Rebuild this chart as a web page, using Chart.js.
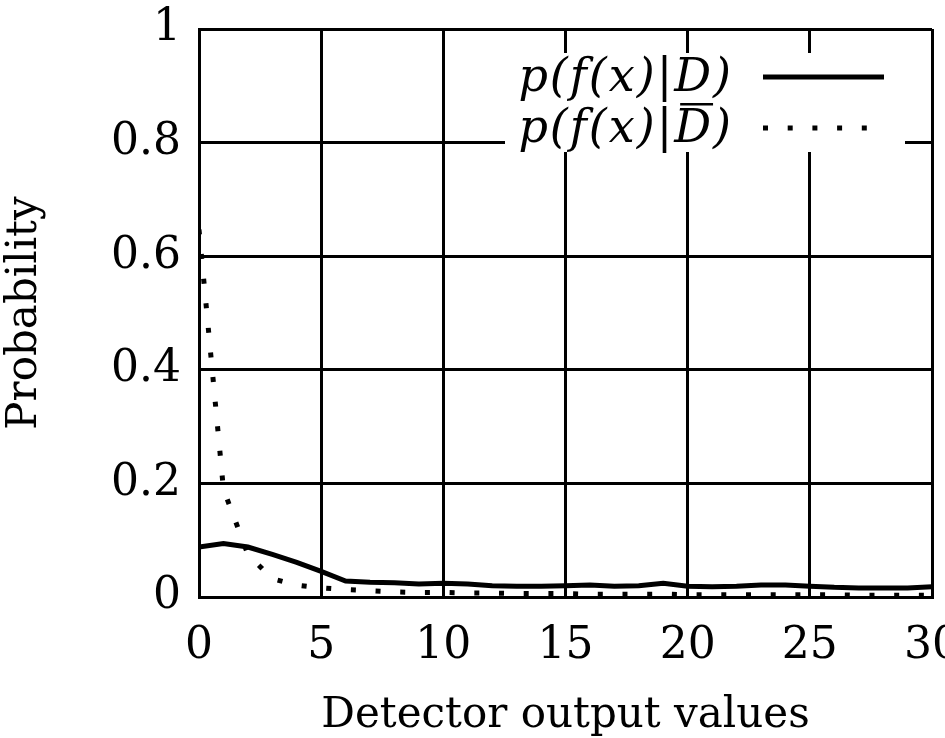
<!DOCTYPE html>
<html>
<head>
<meta charset="utf-8">
<script src="https://cdn.jsdelivr.net/npm/chart.js@4.4.1/dist/chart.umd.min.js"></script>
<style>
  html, body { margin: 0; padding: 0; background: #fff; }
  #wrap { width: 945px; height: 738px; }
</style>
</head>
<body>
<div id="wrap"><canvas id="probChart" width="945" height="738"></canvas></div>
<script>
// valores del detector (eje x)
const detectorValues = [0, 1, 2, 3, 4, 5, 6, 7, 8, 9, 10, 11, 12, 13, 14, 15,
    16, 17, 18, 19, 20, 21, 22, 23, 24, 25, 26, 27, 28, 29, 30];

// p(f(x)|D) - linea continua
const probGivenD = [0.088, 0.094, 0.088, 0.075, 0.061, 0.045, 0.028, 0.026, 0.025, 0.023,
    0.024, 0.023, 0.020, 0.019, 0.019, 0.020, 0.021, 0.019, 0.020, 0.024,
    0.019, 0.018, 0.019, 0.021, 0.021, 0.019, 0.017, 0.016, 0.016, 0.016, 0.018];

// p(f(x)|D barra) - linea punteada
const probGivenNotD = [0.647, 0.19, 0.075, 0.032, 0.021, 0.016, 0.013, 0.011, 0.009, 0.008,
    0.008, 0.007, 0.007, 0.006, 0.006, 0.006, 0.005, 0.005, 0.005, 0.005,
    0.004, 0.004, 0.004, 0.004, 0.004, 0.004, 0.004, 0.003, 0.003, 0.003, 0.003];

const xTicksStep = 5;
const yTicksStep = 0.2;
const legendText = 'p(f(x)|D)';

const serif = '"DejaVu Serif", "Liberation Serif", serif';

function toPoints(ys) {
    return detectorValues.map((x, i) => ({ x: x, y: ys[i] }));
}

// leyenda estilo LaTeX (con la D barrada) dibujada a mano
const texLegend = {
    id: 'texLegend',
    afterDraw(chart) {
        const ctx = chart.ctx;
        const area = chart.chartArea;
        const boxLeft = area.right - 427;
        const boxTop = area.top + 24;
        ctx.save();
        ctx.fillStyle = '#fff';
        ctx.fillRect(boxLeft, boxTop, 400, 99);

        const textRight = area.right - 199;
        const sampleX0 = area.right - 169;
        const sampleX1 = area.right - 48;
        const rows = [area.top + 62, area.top + 113];

        chart.data.datasets.forEach((ds, i) => {
            const baseline = rows[i];
            ctx.font = 'italic 46px ' + serif;
            if ('letterSpacing' in ctx) ctx.letterSpacing = '2px';
            ctx.fillStyle = '#000';
            ctx.textAlign = 'right';
            ctx.textBaseline = 'alphabetic';
            ctx.fillText(legendText, textRight, baseline);
            if (i === 1) {
                // barra sobre la D
                const full = ctx.measureText(legendText).width;
                const pre = ctx.measureText('p(f(x)|').width;
                const dW = ctx.measureText('D').width;
                const dx = textRight - full + pre;
                ctx.fillRect(dx + 6, baseline - 39, dW - 6, 2.5);
            }
            const ly = baseline - 14;
            ctx.beginPath();
            ctx.strokeStyle = ds.borderColor;
            ctx.lineWidth = ds.borderWidth;
            ctx.lineCap = 'butt';
            ctx.setLineDash(ds.borderDash || []);
            ctx.moveTo(sampleX0, ly);
            ctx.lineTo(sampleX1, ly);
            ctx.stroke();
        });
        if ('letterSpacing' in ctx) ctx.letterSpacing = '0px';
        ctx.restore();
    }
};

const ctx = document.getElementById('probChart').getContext('2d');
new Chart(ctx, {
    type: 'line',
    data: {
        datasets: [
            {
                label: 'p(f(x)|D)',
                data: toPoints(probGivenD),
                borderColor: '#000',
                borderWidth: 5,
                pointRadius: 0,
                tension: 0,
                fill: false
            },
            {
                label: 'p(f(x)|not D)',
                data: toPoints(probGivenNotD),
                borderColor: '#000',
                borderWidth: 5,
                borderDash: [5, 19.7],
                borderCapStyle: 'butt',
                pointRadius: 0,
                tension: 0,
                fill: false
            }
        ]
    },
    options: {
        responsive: false,
        animation: false,
        devicePixelRatio: 1,
        layout: {
            padding: { top: 29, right: 13, left: 0, bottom: 0 }
        },
        scales: {
            x: {
                type: 'linear',
                min: 0,
                max: 30,
                ticks: {
                    stepSize: xTicksStep,
                    color: '#000',
                    font: { family: serif, size: 44 },
                    padding: 23,
                    maxRotation: 0
                },
                grid: { color: '#000', lineWidth: 3, drawTicks: false },
                border: { color: '#000', width: 3 },
                title: {
                    display: true,
                    text: 'Detector output values',
                    color: '#000',
                    font: { family: serif, size: 42, lineHeight: 1.05 },
                    padding: { top: 0, bottom: 0 }
                },
                afterFit(scale) {
                    scale.height = 141;
                    scale.paddingLeft = 0;
                    scale.paddingRight = 0;
                }
            },
            y: {
                min: 0,
                max: 1,
                ticks: {
                    stepSize: yTicksStep,
                    color: '#000',
                    font: { family: serif, size: 44 },
                    padding: 18,
                    callback: (v) => String(Number(v.toFixed(2)))
                },
                grid: { color: '#000', lineWidth: 3, drawTicks: false },
                border: { color: '#000', width: 3 },
                title: {
                    display: true,
                    text: 'Probability',
                    color: '#000',
                    font: { family: serif, size: 42 },
                    padding: { top: 0, bottom: 6 }
                },
                afterFit(scale) {
                    scale.width = 199;
                    scale.paddingTop = 0;
                    scale.paddingBottom = 0;
                }
            }
        },
        plugins: {
            legend: { display: false },
            tooltip: { enabled: false }
        }
    },
    plugins: [texLegend]
});
</script>
</body>
</html>
